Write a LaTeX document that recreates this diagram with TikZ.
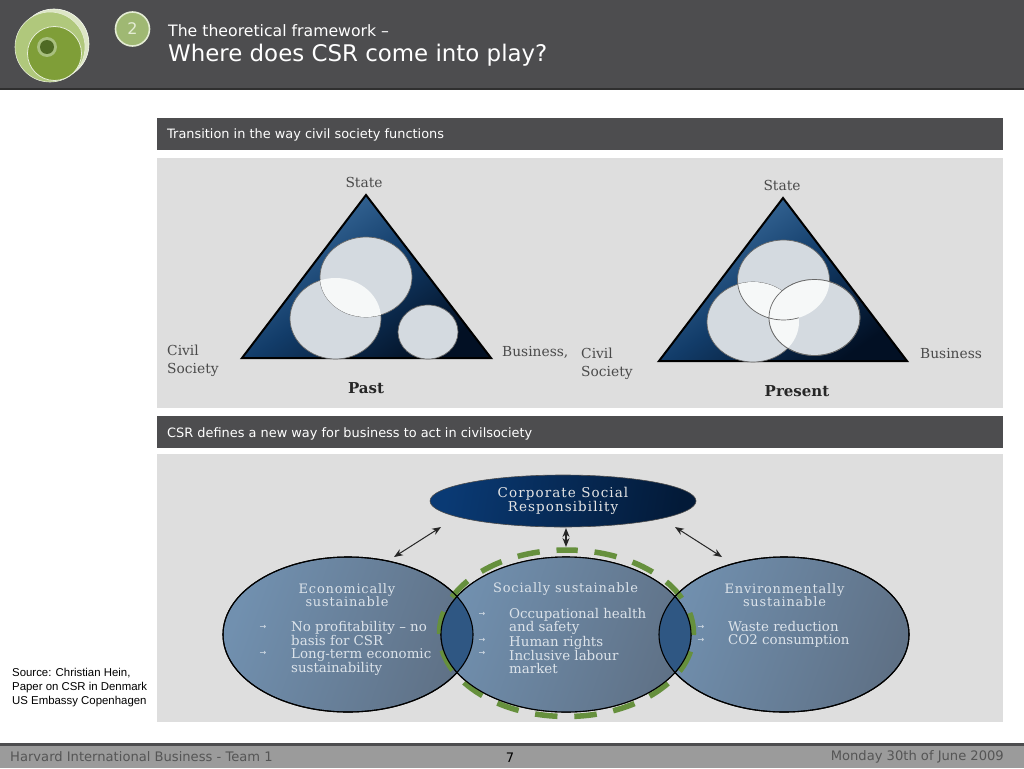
\documentclass[tikz,border=0pt]{standalone}
\usepackage{fontspec}
\setmainfont{DejaVu Sans}
\newfontfamily\serifdj{DejaVu Serif}
\newfontfamily\serifwide[LetterSpace=6]{DejaVu Serif}
\newfontfamily\serifwider[LetterSpace=8]{DejaVu Serif}
\newfontfamily\arialish{Liberation Sans}
\usetikzlibrary{shapes.geometric,arrows.meta}
\definecolor{band}{HTML}{4D4D4F}
\definecolor{panel}{HTML}{DEDEDE}
\definecolor{hdrline}{HTML}{2F2F2F}
\definecolor{foot}{HTML}{9B9B9B}
\definecolor{foottxt}{HTML}{555555}
\definecolor{triL}{HTML}{3F71A1}
\definecolor{triM}{HTML}{123C69}
\definecolor{triR}{HTML}{021024}
\definecolor{disc}{HTML}{D4DAE0}
\definecolor{discB}{HTML}{F6F8F8}
\definecolor{labgray}{HTML}{4A4A4A}
\definecolor{vennL}{HTML}{7190AF}
\definecolor{vennR}{HTML}{5F7186}
\definecolor{vennO}{HTML}{2F5783}
\definecolor{vtxt}{HTML}{DCE3EA}
\definecolor{csrL}{HTML}{0A3A74}
\definecolor{csrR}{HTML}{031A38}
\definecolor{dashgreen}{HTML}{66903D}
\definecolor{logoA}{HTML}{DDE6C6}
\definecolor{logoB}{HTML}{B0C87C}
\definecolor{logoC}{HTML}{7F9E38}
\definecolor{logoD}{HTML}{A9C07F}
\definecolor{logoE}{HTML}{4F6A24}
\definecolor{badge}{HTML}{9FB873}
\definecolor{badgeB}{HTML}{E4ECD4}
\tikzset{
  x=1pt,y=-1pt,
  bandbox/.style={fill=band,draw=none},
  panelbox/.style={fill=panel,draw=none},
  bandtxt/.style={anchor=west,inner sep=0pt,text=white,font=\fontsize{12.9}{15}\selectfont},
  lab/.style={inner sep=0pt,text=labgray,align=left,font=\serifdj\fontsize{13.8}{18}\selectfont},
  boldlab/.style={inner sep=0pt,text=black!85,font=\serifdj\bfseries\fontsize{15}{18}\selectfont},
  bigtri/.style={draw=black,line width=2pt,line join=miter,left color=triL,right color=triR,middle color=triM,shading angle=35},
  dsc/.style={fill=disc,draw=black!60,line width=.7pt},
  venn/.style={ellipse,inner sep=0pt,minimum width=250pt,minimum height=155pt,draw=black,line width=1.1pt,left color=vennL,right color=vennR,shading angle=70},
  vt/.style={inner sep=0pt,text=vtxt,font=\serifdj\fontsize{13.4}{13}\selectfont},
  vh/.style={inner sep=0pt,text=vtxt,align=center,font=\serifwide\fontsize{13}{13}\selectfont},
  vb/.style={vt,anchor=north west,align=left},
  va/.style={inner sep=0pt,text=vtxt,font=\fontsize{8}{8}\selectfont},
  dbl/.style={{Stealth[length=9pt,width=7pt]}-{Stealth[length=9pt,width=7pt]},line width=1pt,draw=black!85},
  foottext/.style={inner sep=0pt,text=foottxt,font=\fontsize{13.1}{15}\selectfont},
}
\begin{document}
\begin{tikzpicture}
\useasboundingbox (0,0) rectangle (1024,768);
\fill[white] (0,0) rectangle (1024,768);
% header
\fill[band] (0,0) rectangle (1024,88);
\fill[hdrline] (0,88) rectangle (1024,90);
\fill[logoA,draw=white!80!logoA,line width=.6pt] (54,44) circle [radius=35];
\fill[logoB,draw=white!70!logoB,line width=.6pt] (50,47) circle [radius=35];
\fill[logoC,draw=white!70!logoB,line width=.8pt] (54.5,53.5) circle [radius=27];
\fill[logoD] (47,47) circle [radius=10];
\fill[logoE] (47,47) circle [radius=7];
\node[circle,minimum size=34pt,inner sep=0pt,fill=badge,draw=badgeB,line width=1.6pt,text=badgeB,font=\fontsize{16}{18}\selectfont] (badge) at (132.5,29) {2};
\node[inner sep=0pt,anchor=west,text=white,font=\fontsize{15.7}{18}\selectfont] (title1) at (168,31) {The theoretical framework –};
\node[inner sep=0pt,anchor=west,text=white,font=\fontsize{22.9}{26}\selectfont] (title2) at (168,55) {Where does CSR come into play?};
% bands and panels
\fill[bandbox] (157,118) rectangle (1003,150);
\node[bandtxt] (band1) at (167,135) {Transition in the way civil society functions};
\fill[panelbox] (157,158) rectangle (1003,408);
\fill[bandbox] (157,416) rectangle (1003,448);
\node[bandtxt] (band2) at (167,433.5) {CSR defines a new way for business to act in civilsociety};
\fill[panelbox] (157,454) rectangle (1003,722);
% past
\shade[bigtri] (366,195) -- (491,358) -- (242,358) -- cycle;
\draw[dsc] (335.5,318.5) ellipse [x radius=45.5pt,y radius=40.5pt];
\draw[dsc] (366,277) ellipse [x radius=46pt,y radius=40pt];
\begin{scope}
\clip (335.5,318.5) ellipse [x radius=45.5pt,y radius=40.5pt];
\fill[discB] (366,277) ellipse [x radius=46pt,y radius=40pt];
\end{scope}
\draw[dsc] (428,332) ellipse [x radius=30pt,y radius=27pt];
\node[lab] (st1) at (364,182) {State};
\node[lab,anchor=west] (cs1) at (167,361) {Civil\\Society};
\node[lab,anchor=west] (bu1) at (502,352) {Business,};
\node[boldlab] (pa1) at (366,388) {Past};
% present
\shade[bigtri] (783,198) -- (907,361) -- (659,361) -- cycle;
\draw[dsc] (783.5,280) ellipse [x radius=46pt,y radius=40pt];
\draw[dsc] (753,322) ellipse [x radius=46pt,y radius=40pt];
\draw[dsc] (814.5,317.5) ellipse [x radius=45.5pt,y radius=38pt];
\begin{scope}
\clip (753,322) ellipse [x radius=46pt,y radius=40pt];
\fill[discB] (783.5,280) ellipse [x radius=46pt,y radius=40pt];
\end{scope}
\begin{scope}
\clip (814.5,317.5) ellipse [x radius=45.5pt,y radius=38pt];
\fill[discB] (783.5,280) ellipse [x radius=46pt,y radius=40pt];
\fill[discB] (753,322) ellipse [x radius=46pt,y radius=40pt];
\end{scope}
\draw[black!60,line width=.7pt] (814.5,317.5) ellipse [x radius=45.5pt,y radius=38pt];
\begin{scope}
\clip (753,322) ellipse [x radius=46pt,y radius=40pt];
\draw[black!60,line width=.7pt] (783.5,280) ellipse [x radius=46pt,y radius=40pt];
\end{scope}
\node[lab] (st2) at (782,185) {State};
\node[lab,anchor=west] (cs2) at (581,364) {Civil\\Society};
\node[lab,anchor=west] (bu2) at (920,354) {Business};
\node[boldlab] (pa2) at (797,391) {Present};
% venn
\node[venn] (econ) at (348,634.5) {};
\node[venn] (envi) at (784,634.5) {};
\node[venn] (soci) at (566,634.5) {};
\draw[dashgreen,line width=5.5pt,dash pattern=on 22.5pt off 16.85pt,dash phase=11.25pt] (566.5,550) arc [start angle=90,end angle=-270,x radius=127pt,y radius=83.25pt];
\begin{scope}
\clip (566,634.5) ellipse [x radius=125pt,y radius=77.5pt];
\shade[left color=vennL,right color=vennR,shading angle=70] (441,557) rectangle (691,712);
\end{scope}
\begin{scope}
\clip (348,634.5) ellipse [x radius=125pt,y radius=77.5pt];
\fill[vennO] (566,634.5) ellipse [x radius=125pt,y radius=77.5pt];
\end{scope}
\begin{scope}
\clip (784,634.5) ellipse [x radius=125pt,y radius=77.5pt];
\fill[vennO] (566,634.5) ellipse [x radius=125pt,y radius=77.5pt];
\end{scope}
\draw[black,line width=1.1pt] (348,634.5) ellipse [x radius=125pt,y radius=77.5pt];
\draw[black,line width=1.1pt] (784,634.5) ellipse [x radius=125pt,y radius=77.5pt];
\draw[black,line width=1.1pt] (566,634.5) ellipse [x radius=125pt,y radius=77.5pt];
\node[ellipse,inner sep=0pt,minimum width=266pt,minimum height=52pt,draw=black!70,line width=.6pt,left color=csrL,right color=csrR,shading angle=80,text=white!90!black,align=center,font=\serifwider\fontsize{13.5}{14.5}\selectfont] (csr) at (563,501) {Corporate Social\\Responsibility};
\coordinate (a1s) at (441,527);
\coordinate (a1e) at (394,557);
\coordinate (a2s) at (566,528);
\coordinate (a2e) at (566,547);
\coordinate (a3s) at (675,527);
\coordinate (a3e) at (722,557);
\draw[dbl] (a1s) -- (a1e);
\draw[dbl,line width=1.3pt] (a2s) -- (a2e);
\draw[dbl] (a3s) -- (a3e);
\node[vh] (h1) at (347,595) {Economically\\sustainable};
\node[vb] (b11) at (291,621) {No profitability – no\\basis for CSR\\Long-term economic\\sustainability};
\node[va] (r11) at (263,627) {→};
\node[va] (r12) at (263,653) {→};
\node[vh,anchor=west] (h2) at (493,588.5) {Socially sustainable};
\node[vb] (b21) at (509,608.5) {Occupational health\\and safety\\Human rights\\Inclusive labour\\market};
\node[va] (r21) at (482,614) {→};
\node[va] (r22) at (482,640) {→};
\node[va] (r23) at (482,653) {→};
\node[vh] (h3) at (784.5,595) {Environmentally\\sustainable};
\node[vb] (b31) at (728,621) {Waste reduction\\CO2 consumption};
\node[va] (r31) at (701,627) {→};
\node[va] (r32) at (701,640) {→};
% source
\node[inner sep=0pt,anchor=north west,align=left,text=black,font=\arialish\fontsize{11.4}{14}\selectfont] (src) at (12,668) {Source: Christian Hein,\\Paper on CSR in Denmark\\US Embassy Copenhagen};
% footer
\fill[foot] (0,743) rectangle (1024,768);
\fill[band] (0,743) rectangle (1024,746);
\node[foottext,anchor=west] (f1) at (10,757) {Harvard International Business - Team 1};
\node[foottext,text=black] (f2) at (510,758) {7};
\node[foottext,anchor=east] (f3) at (1004,757) {Monday 30th of June 2009};
\end{tikzpicture}
\end{document}
